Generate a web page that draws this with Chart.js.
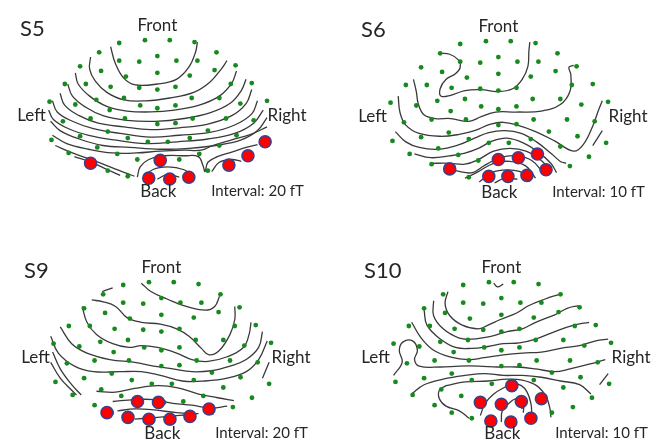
<!DOCTYPE html>
<html>
<head>
<meta charset="utf-8">
<script src="https://cdn.jsdelivr.net/npm/chart.js@4.4.1/dist/chart.umd.min.js"></script>
<style>
    html, body { margin: 0; padding: 0; background: #fff; width: 658px; height: 447px; overflow: hidden; }
    .panel { position: absolute; width: 329px; height: 223px; }
</style>
</head>
<body>
<div class="panel" style="left:0px;top:0px"><canvas id="map-0"></canvas></div>
<div class="panel" style="left:341px;top:1px"><canvas id="map-1"></canvas></div>
<div class="panel" style="left:4px;top:242px"><canvas id="map-2"></canvas></div>
<div class="panel" style="left:344px;top:242px"><canvas id="map-3"></canvas></div>
<script>
// Tên các panel và khoảng đường đồng mức
const panelNames = ["S5", "S6", "S9", "S10"];
const intervalTexts = ["Interval: 20 fT", "Interval: 10 fT", "Interval: 20 fT", "Interval: 10 fT"];
const directionTexts = ["Front", "Left", "Right", "Back"];

// Vị trí cảm biến (chung cho cả 4 bản đồ)
const sensors = [
    [117,38],[144,35],[170,35],[196,37],[96,48],[157,52],[219,48],[117,57],[138,58],[177,57],
    [199,57],[76,63],[98,68],[124,74],[157,70],[191,73],[217,67],[239,62],[60,82],[82,82],
    [108,85],[138,86],[157,88],[176,85],[234,82],[256,81],[93,99],[122,97],[193,97],[222,97],
    [44,101],[71,104],[107,110],[139,105],[157,108],[176,105],[244,103],[272,100],[58,122],[87,119],
    [123,119],[157,125],[176,124],[194,119],[229,119],[258,121],[105,133],[210,132],[240,137],[46,142],
    [76,138],[94,150],[126,140],[147,144],[168,144],[191,140],[222,148],[64,156],[115,157],[136,163],
    [180,163],[201,157],[105,175],[126,181],[210,175],[87,167],[160,164],[148,183],[170,184],[190,182],
    [232,169],[252,159],[270,144]
];

// Cảm biến có tín hiệu mạnh (chấm đỏ)
const redS5 = [[87,167],[160,164],[148,183],[170,184],[190,182],[232,169],[252,159],[270,144]];
const redS6 = [[106,172],[157,162],[178,160],[198,156],[207,173],[187,179],[167,180],[147,180]];
const redS9 = [[100,175],[132,163],[154,164],[207,171],[187,179],[166,182],[144,182],[122,180]];
const redS10 = [[168,146],[135,164],[157,166],[178,163],[199,160],[188,181],[167,185],[146,184]];

// Đường đồng mức
const linesS5 = [
    [[108,42],[113,60],[122,76],[134,83],[157,82],[177,77],[190,64],[197,48],[199,37]],
    [[87,53],[86,66],[92,79],[104,91],[122,99],[145,100],[170,97],[195,91],[212,80],[224,66],[230,57]],
    [[71,70],[74,82],[86,95],[104,106],[125,111],[150,112],[175,110],[200,105],[222,95],[235,81],[240,68]],
    [[63,82],[68,95],[82,107],[100,116],[125,121],[155,122],[185,119],[212,113],[233,103],[245,89],[250,77]],
    [[55,92],[60,105],[75,116],[95,124],[122,128],[150,131],[180,129],[210,125],[235,116],[250,103],[256,88]],
    [[47,100],[52,112],[68,122],[90,130],[118,135],[150,139],[180,137],[212,134],[238,126],[256,114],[262,100]],
    [[43,110],[48,120],[64,130],[85,137],[112,142],[145,146],[178,144],[210,141],[238,135],[258,124],[268,110]],
    [[45,122],[55,132],[75,141],[100,148],[128,150],[160,152],[190,151],[218,148],[245,142],[262,132],[272,118]],
    [[47,137],[62,146],[85,152],[110,156],[135,156],[160,154],[185,153],[203,153],[215,148],[235,142],[255,136],[272,128]],
    [[50,148],[68,156],[90,164],[110,172],[125,178],[133,181]],
    [[70,160],[88,166],[105,174],[118,180]],
    [[136,182],[139,171],[148,163],[163,159],[185,159],[200,160],[205,170],[207,176],[210,166],[220,160],[235,155],[250,150],[262,147]],
    [[143,182],[152,174],[168,171],[185,174],[195,181]],
    [[157,184],[168,179],[180,182]],
    [[214,176],[222,166],[235,163],[245,165]]
];
const linesS6 = [
    [[96,48],[106,49],[115,55],[117,63],[112,70],[102,76],[96,86],[97,94],[107,93],[122,88],[139,87],[156,89],[172,86],[182,76],[188,62],[189,46],[190,36]],
    [[68,76],[71,89],[73,102],[79,114],[91,118],[107,118],[126,121],[139,116],[154,111],[176,111],[202,110],[222,103],[232,89],[233,71],[231,63],[236,61]],
    [[52,94],[54,112],[60,125],[74,134],[96,137],[116,135],[132,131],[149,124],[162,122],[177,125],[196,132],[216,142],[236,153],[246,146],[256,126],[262,109],[266,99]],
    [[49,132],[60,143],[74,149],[94,151],[116,146],[132,139],[147,133],[164,131],[181,134],[197,143],[213,156],[222,164],[228,166]],
    [[69,156],[86,160],[106,158],[122,155],[136,150],[151,142],[166,139],[183,144],[199,154],[212,166],[218,176]],
    [[86,166],[106,166],[122,167],[136,162],[152,153],[169,150],[186,153],[202,163],[211,173]],
    [[101,170],[117,175],[130,176],[143,168],[159,160],[176,158],[192,163],[204,176]],
    [[122,182],[136,175],[152,166],[169,164],[186,169],[196,182]],
    [[137,186],[150,176],[166,173],[182,176],[190,186]],
    [[153,187],[164,182],[177,183]],
    [[256,147],[266,131]]
];
const linesS9 = [
    [[95,45],[106,41]],
    [[136,36],[146,45],[163,53],[183,61],[203,65],[213,61],[218,50]],
    [[84,54],[96,56],[109,61],[121,73],[136,78],[156,80],[173,85],[186,93],[199,106],[207,113],[218,108],[229,91],[234,75],[234,61]],
    [[74,61],[79,78],[89,91],[106,101],[123,105],[136,103],[153,105],[173,111],[189,118],[206,120],[226,115],[243,105],[249,91],[251,78]],
    [[51,83],[63,101],[79,111],[103,118],[129,121],[149,125],[169,128],[189,131],[209,130],[229,125],[246,118],[259,105],[263,88]],
    [[41,93],[49,111],[66,125],[86,131],[113,131],[136,131],[156,135],[179,141],[203,141],[226,138],[246,131],[259,118],[268,98]],
    [[43,110],[51,128],[63,145],[73,156]],
    [[41,121],[51,138],[63,151],[68,156]],
    [[89,152],[109,153],[129,149],[153,146],[173,148],[196,155],[216,159],[233,162]],
    [[106,163],[129,161],[149,161],[169,165],[189,167],[209,170],[226,168]],
    [[111,173],[129,171],[149,172],[173,175],[196,176]],
    [[129,182],[153,180],[176,178],[188,177]],
    [[263,138],[270,121]]
];
const linesS10 = [
    [[149,36],[153,40],[159,37]],
    [[101,45],[98,58],[103,71],[116,81],[133,85],[143,81],[156,75],[173,68],[186,60],[203,53],[218,48]],
    [[86,55],[86,71],[96,85],[113,95],[126,96],[146,93],[163,88],[179,85],[193,78],[213,70],[226,63],[238,60]],
    [[76,65],[79,81],[93,96],[109,105],[126,106],[143,104],[159,101],[176,100],[193,96],[213,88],[233,81],[249,78]],
    [[63,78],[73,95],[86,108],[103,115],[123,118],[139,116],[159,113],[179,111],[199,110],[219,106],[239,103],[256,98],[269,96]],
    [[44,135],[53,121],[50,108],[54,99],[64,98],[69,108],[66,118],[71,125],[93,126],[113,125],[133,125],[153,126],[173,126],[193,128],[213,131],[229,128],[249,123],[266,118]],
    [[63,155],[76,145],[96,139],[119,135],[139,133],[159,135],[179,135],[199,137],[219,141],[239,145],[251,155]],
    [[99,146],[92,151],[92,160],[99,168],[113,173],[123,181]],
    [[99,146],[119,142],[143,141],[163,139],[179,140],[194,146],[204,158],[208,171],[209,180]],
    [[135,178],[140,165],[149,155],[160,148],[169,144],[178,146],[184,153],[188,165],[189,178]],
    [[157,185],[158,173],[165,165],[173,160],[180,165],[180,175]],
    [[174,166],[178,161],[182,166],[178,171]],
    [[260,145],[269,133]]
];

const allLines = [linesS5, linesS6, linesS9, linesS10];
const allRed = [redS5, redS6, redS9, redS10];

function toPoints(list) {
    return list.map(p => ({ x: p[0], y: p[1] }));
}

// Plugin vẽ chữ: tên panel, hướng, khoảng đồng mức
const labelPlugin = {
    id: "mapLabels",
    afterDraw(chart) {
        const c = chart.ctx;
        const sx = chart.scales.x, sy = chart.scales.y;
        const idx = chart.options.plugins.mapLabels.index;
        c.save();
        c.fillStyle = "#262626";
        c.textBaseline = "middle";
        c.textAlign = "left";
        c.font = "22px Lato";
        c.fillText(panelNames[idx], sx.getPixelForValue(13), sy.getPixelForValue(23));
        c.textAlign = "center";
        c.font = "17px Lato";
        const spots = [[157, 19], [25, 116], [293, 116], [158, 197]];
        directionTexts.forEach((t, i) => {
            c.fillText(t, sx.getPixelForValue(spots[i][0]), sy.getPixelForValue(spots[i][1]));
        });
        c.font = "15px Lato";
        c.fillText(intervalTexts[idx], sx.getPixelForValue(262), sy.getPixelForValue(197));
        c.restore();
    }
};

function makeMap(idx) {
    const datasets = [];
    allLines[idx].forEach(line => {
        datasets.push({
            data: toPoints(line),
            showLine: true,
            pointRadius: 0,
            borderColor: "#3a3a3a",
            borderWidth: 1.3,
            tension: 0.4,
            fill: false,
            order: 3
        });
    });
    datasets.push({
        data: toPoints(sensors),
        pointRadius: 2.4,
        backgroundColor: "#178a1e",
        borderWidth: 0,
        order: 2
    });
    datasets.push({
        data: toPoints(allRed[idx]),
        pointRadius: 6,
        backgroundColor: "#ff0000",
        borderColor: "#3d3f8c",
        borderWidth: 1.6,
        order: 1
    });

    new Chart(document.getElementById("map-" + idx), {
        type: "scatter",
        data: { datasets: datasets },
        options: {
            responsive: true,
            maintainAspectRatio: false,
            animation: false,
            layout: { padding: 0 },
            plugins: {
                legend: { display: false },
                tooltip: { enabled: false },
                mapLabels: { index: idx }
            },
            scales: {
                x: { type: "linear", min: 0, max: 329, display: false },
                y: { type: "linear", min: 0, max: 223, reverse: true, display: false }
            }
        },
        plugins: [labelPlugin]
    });
}

for (let i = 0; i < 4; i++) {
    makeMap(i);
}
</script>
</body>
</html>
